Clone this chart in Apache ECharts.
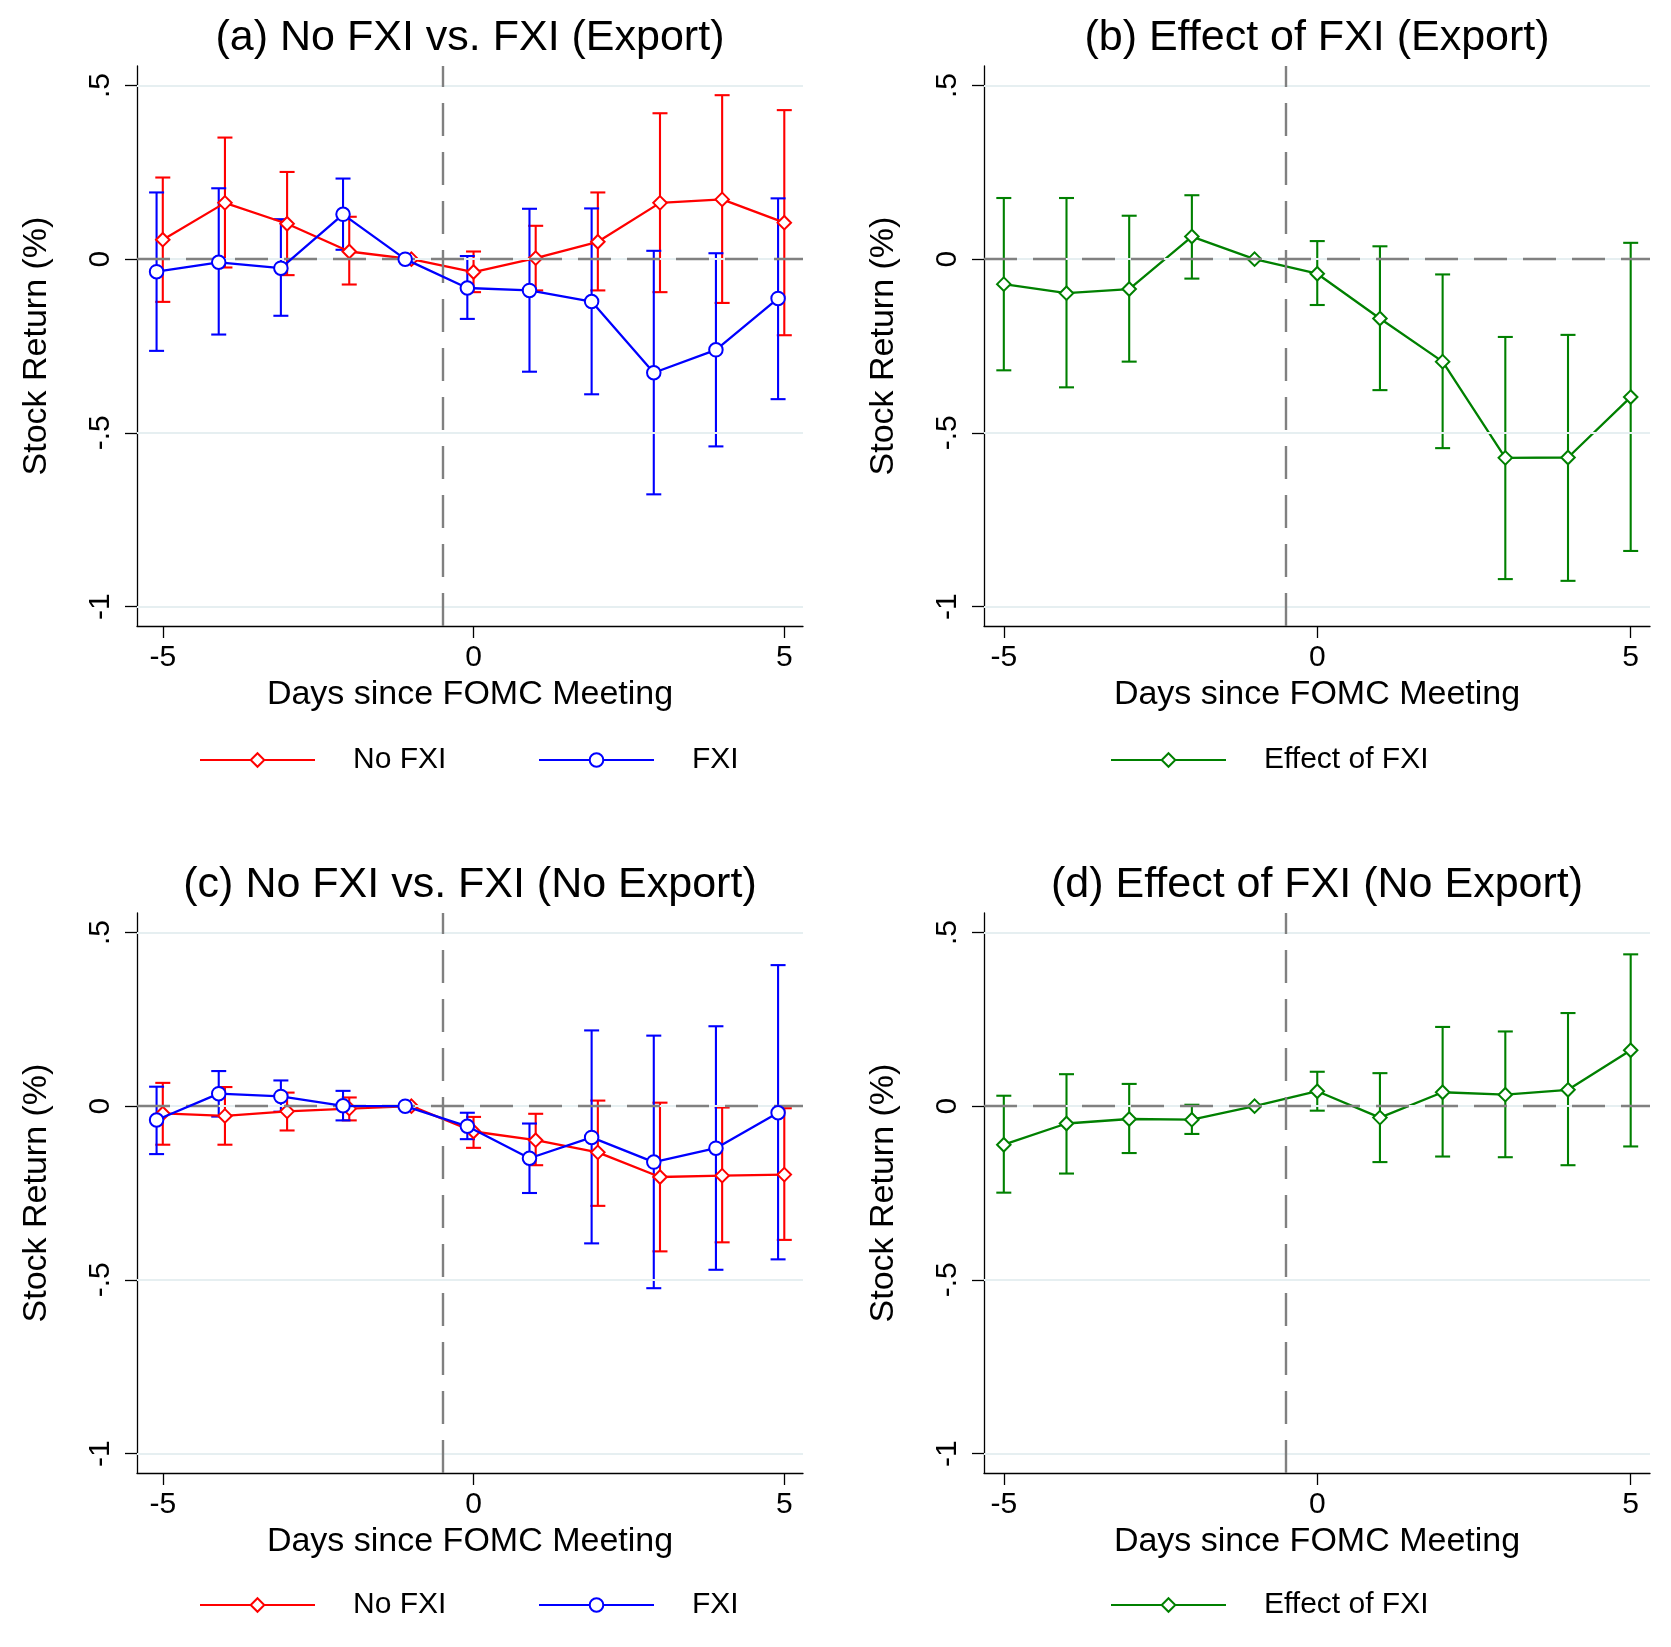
<!DOCTYPE html>
<html>
<head>
<meta charset="utf-8">
<script src="https://cdn.jsdelivr.net/npm/echarts@6/dist/echarts.min.js"></script>
<style>
html, body { margin: 0; padding: 0; background: #fff; }
#chart { width: 1671px; height: 1647px; }
</style>
</head>
<body>
<div id="chart"></div>
<script>
// days relative to the FOMC meeting
const days = [-5, -4, -3, -2, -1, 0, 1, 2, 3, 4, 5]
const fxiShift = -0.1   // FXI points are drawn slightly to the left
const yTicks = [-1, -0.5, 0, 0.5]
const xTicks = [-5, 0, 5]

// (a) export firms
const noFxiExp = [0.056, 0.162, 0.102, 0.022, 0, -0.037, 0.003, 0.050, 0.162, 0.172, 0.105]
const noFxiExpHi = [0.235, 0.350, 0.251, 0.122, 0, 0.022, 0.096, 0.192, 0.420, 0.472, 0.429]
const noFxiExpLo = [-0.123, -0.024, -0.046, -0.073, 0, -0.095, -0.090, -0.090, -0.095, -0.126, -0.219]
const fxiExp = [-0.036, -0.009, -0.026, 0.129, 0, -0.083, -0.090, -0.122, -0.327, -0.261, -0.113]
const fxiExpHi = [0.192, 0.204, 0.115, 0.232, 0, 0.009, 0.145, 0.146, 0.024, 0.017, 0.175]
const fxiExpLo = [-0.264, -0.217, -0.163, 0.027, 0, -0.172, -0.324, -0.389, -0.677, -0.539, -0.403]

// (b) effect of FXI, export
const effExp = [-0.072, -0.098, -0.086, 0.065, 0, -0.042, -0.171, -0.295, -0.572, -0.571, -0.397]
const effExpHi = [0.176, 0.176, 0.125, 0.184, 0, 0.052, 0.037, -0.044, -0.224, -0.218, 0.047]
const effExpLo = [-0.320, -0.369, -0.295, -0.056, 0, -0.132, -0.377, -0.544, -0.921, -0.926, -0.840]

// (c) non-export firms
const noFxiNoExp = [-0.021, -0.028, -0.015, -0.007, 0, -0.073, -0.098, -0.133, -0.204, -0.200, -0.197]
const noFxiNoExpHi = [0.067, 0.055, 0.039, 0.025, 0, -0.031, -0.022, 0.016, 0.010, -0.004, -0.006]
const noFxiNoExpLo = [-0.111, -0.111, -0.070, -0.041, 0, -0.120, -0.170, -0.287, -0.418, -0.392, -0.385]
const fxiNoExp = [-0.040, 0.036, 0.028, 0.001, 0, -0.058, -0.150, -0.090, -0.161, -0.121, -0.019]
const fxiNoExpHi = [0.056, 0.101, 0.074, 0.044, 0, -0.019, -0.050, 0.218, 0.203, 0.230, 0.406]
const fxiNoExpLo = [-0.138, -0.030, -0.016, -0.041, 0, -0.095, -0.250, -0.395, -0.524, -0.471, -0.441]

// (d) effect of FXI, non-export
const effNoExp = [-0.111, -0.050, -0.037, -0.039, 0, 0.043, -0.033, 0.040, 0.033, 0.047, 0.161]
const effNoExpHi = [0.030, 0.092, 0.064, 0.004, 0, 0.099, 0.095, 0.228, 0.215, 0.268, 0.437]
const effNoExpLo = [-0.249, -0.194, -0.135, -0.080, 0, -0.013, -0.161, -0.145, -0.147, -0.170, -0.116]

const titles = [
    "(a) No FXI vs. FXI (Export)",
    "(b) Effect of FXI (Export)",
    "(c) No FXI vs. FXI (No Export)",
    "(d) Effect of FXI (No Export)"
]

const FONT = "Liberation Sans"
const RED = "#ff0000", BLUE = "#0000ff", GREEN = "#008000"
const gridColor = "#e6eff1"
const dashColor = "#808080"

let chart = echarts.init(document.getElementById("chart"), null, { renderer: "canvas" })

// plot regions
let grids = [
    { left: 137, top: 66, width: 666, height: 560 },
    { left: 984, top: 66, width: 666, height: 560 },
    { left: 137, top: 913, width: 666, height: 560 },
    { left: 984, top: 913, width: 666, height: 560 }
]
let xRanges = [[-5.415, 5.301], [-5.316, 5.308], [-5.415, 5.301], [-5.316, 5.308]]

function fmt(v) {
    return String(v).replace("0.", ".")
}

function makeX(i) {
    return {
        gridIndex: i, type: "value", min: xRanges[i][0], max: xRanges[i][1],
        axisLine: { show: true, onZero: false, lineStyle: { color: "#000", width: 1.3 } },
        axisTick: { show: true, customValues: xTicks, length: 12, lineStyle: { color: "#000", width: 1.3 } },
        axisLabel: { customValues: xTicks, fontSize: 30, color: "#000", fontFamily: FONT, margin: 17 },
        splitLine: { show: false },
        name: "Days since FOMC Meeting", nameLocation: "middle", nameGap: 52,
        nameTextStyle: { fontSize: 34, color: "#000", fontFamily: FONT }
    }
}

function makeY(i) {
    return {
        gridIndex: i, type: "value", min: -1.056, max: 0.556,
        axisLine: { show: true, onZero: false, lineStyle: { color: "#000", width: 1.3 } },
        axisTick: { show: true, customValues: yTicks, length: 12, lineStyle: { color: "#000", width: 1.3 } },
        axisLabel: { customValues: yTicks, rotate: 90, fontSize: 30, color: "#000", fontFamily: FONT, margin: 21, formatter: fmt },
        splitLine: { show: false },
        name: "Stock Return (%)", nameLocation: "middle", nameGap: 83,
        nameTextStyle: { fontSize: 34, color: "#000", fontFamily: FONT }
    }
}

// light grid lines + dashed reference lines
function refSeries(i) {
    return [{
        type: "line", name: "grid" + i, xAxisIndex: i, yAxisIndex: i, data: [], silent: true, z: 1,
        markLine: {
            silent: true, symbol: "none", animation: false, label: { show: false },
            lineStyle: { color: gridColor, width: 1.8, type: "solid" },
            data: yTicks.map(v => ({ yAxis: v }))
        }
    }, {
        type: "line", name: "ref" + i, xAxisIndex: i, yAxisIndex: i, data: [], silent: true, z: 2,
        markLine: {
            silent: true, symbol: "none", animation: false, label: { show: false },
            lineStyle: { color: dashColor, width: 2.4, type: [33, 16] },
            data: [{ xAxis: -0.5 }, { yAxis: 0 }]
        }
    }]
}

function ciSeries(i, name, xs, lo, hi, color) {
    let rows = []
    xs.forEach((x, k) => {
        if (lo[k] !== hi[k]) rows.push([x, lo[k], hi[k]])
    })
    return {
        type: "custom", name: name, xAxisIndex: i, yAxisIndex: i, silent: true, z: 3,
        data: rows,
        encode: { x: 0, y: [1, 2] },
        renderItem: function (params, api) {
            let a = api.coord([api.value(0), api.value(1)])
            let b = api.coord([api.value(0), api.value(2)])
            let w = 7.5
            let style = { stroke: color, lineWidth: 2.1 }
            return {
                type: "group", children: [
                    { type: "line", shape: { x1: a[0], y1: a[1], x2: b[0], y2: b[1] }, style: style },
                    { type: "line", shape: { x1: a[0] - w, y1: a[1], x2: a[0] + w, y2: a[1] }, style: style },
                    { type: "line", shape: { x1: b[0] - w, y1: b[1], x2: b[0] + w, y2: b[1] }, style: style }
                ]
            }
        }
    }
}

function lineSeries(i, name, xs, vals, color, symbol, size, z) {
    return {
        type: "line", name: name, xAxisIndex: i, yAxisIndex: i, z: z,
        data: xs.map((x, k) => [x, vals[k]]),
        symbol: symbol, symbolSize: size, showAllSymbol: true,
        lineStyle: { color: color, width: 2.3 },
        itemStyle: { color: color, borderWidth: 2.4 },
        emphasis: { disabled: true }
    }
}

let fxiDays = days.map(d => d + fxiShift)

let series = []
for (let i = 0; i < 4; i++) series.push(...refSeries(i))

series.push(
    ciSeries(0, "No FXI CI a", days, noFxiExpLo, noFxiExpHi, RED),
    ciSeries(0, "FXI CI a", fxiDays, fxiExpLo, fxiExpHi, BLUE),
    lineSeries(0, "No FXI", days, noFxiExp, RED, "emptyDiamond", 13.5, 4),
    lineSeries(0, "FXI", fxiDays, fxiExp, BLUE, "emptyCircle", 13.5, 5),

    ciSeries(1, "Effect CI b", days, effExpLo, effExpHi, GREEN),
    lineSeries(1, "Effect of FXI", days, effExp, GREEN, "emptyDiamond", 13.5, 4),

    ciSeries(2, "No FXI CI c", days, noFxiNoExpLo, noFxiNoExpHi, RED),
    ciSeries(2, "FXI CI c", fxiDays, fxiNoExpLo, fxiNoExpHi, BLUE),
    lineSeries(2, "No FXI", days, noFxiNoExp, RED, "emptyDiamond", 13.5, 4),
    lineSeries(2, "FXI", fxiDays, fxiNoExp, BLUE, "emptyCircle", 13.5, 5),

    ciSeries(3, "Effect CI d", days, effNoExpLo, effNoExpHi, GREEN),
    lineSeries(3, "Effect of FXI", days, effNoExp, GREEN, "emptyDiamond", 13.5, 4)
)

function legendAt(name, left, top) {
    return {
        data: [name], left: left, top: top, padding: 0, selectedMode: false,
        itemWidth: 115, itemHeight: 17,
        textStyle: { fontSize: 30, color: "#000", fontFamily: FONT, padding: [0, 0, 0, 33] }
    }
}

let titleCenters = [[470, 17], [1317, 17], [470, 864], [1317, 864]]

let option = {
    animation: false,
    backgroundColor: "#fff",
    title: titles.map((t, i) => ({
        text: t, left: titleCenters[i][0], top: titleCenters[i][1], textAlign: "center", padding: 0,
        textStyle: { fontSize: 43, fontWeight: "normal", color: "#000", fontFamily: FONT }
    })),
    legend: [
        legendAt("No FXI", 199, 745),
        legendAt("FXI", 538, 745),
        legendAt("Effect of FXI", 1110, 745),
        legendAt("No FXI", 199, 1590),
        legendAt("FXI", 538, 1590),
        legendAt("Effect of FXI", 1110, 1590)
    ],
    grid: grids,
    xAxis: [0, 1, 2, 3].map(makeX),
    yAxis: [0, 1, 2, 3].map(makeY),
    series: series
}

chart.setOption(option)
</script>
</body>
</html>
